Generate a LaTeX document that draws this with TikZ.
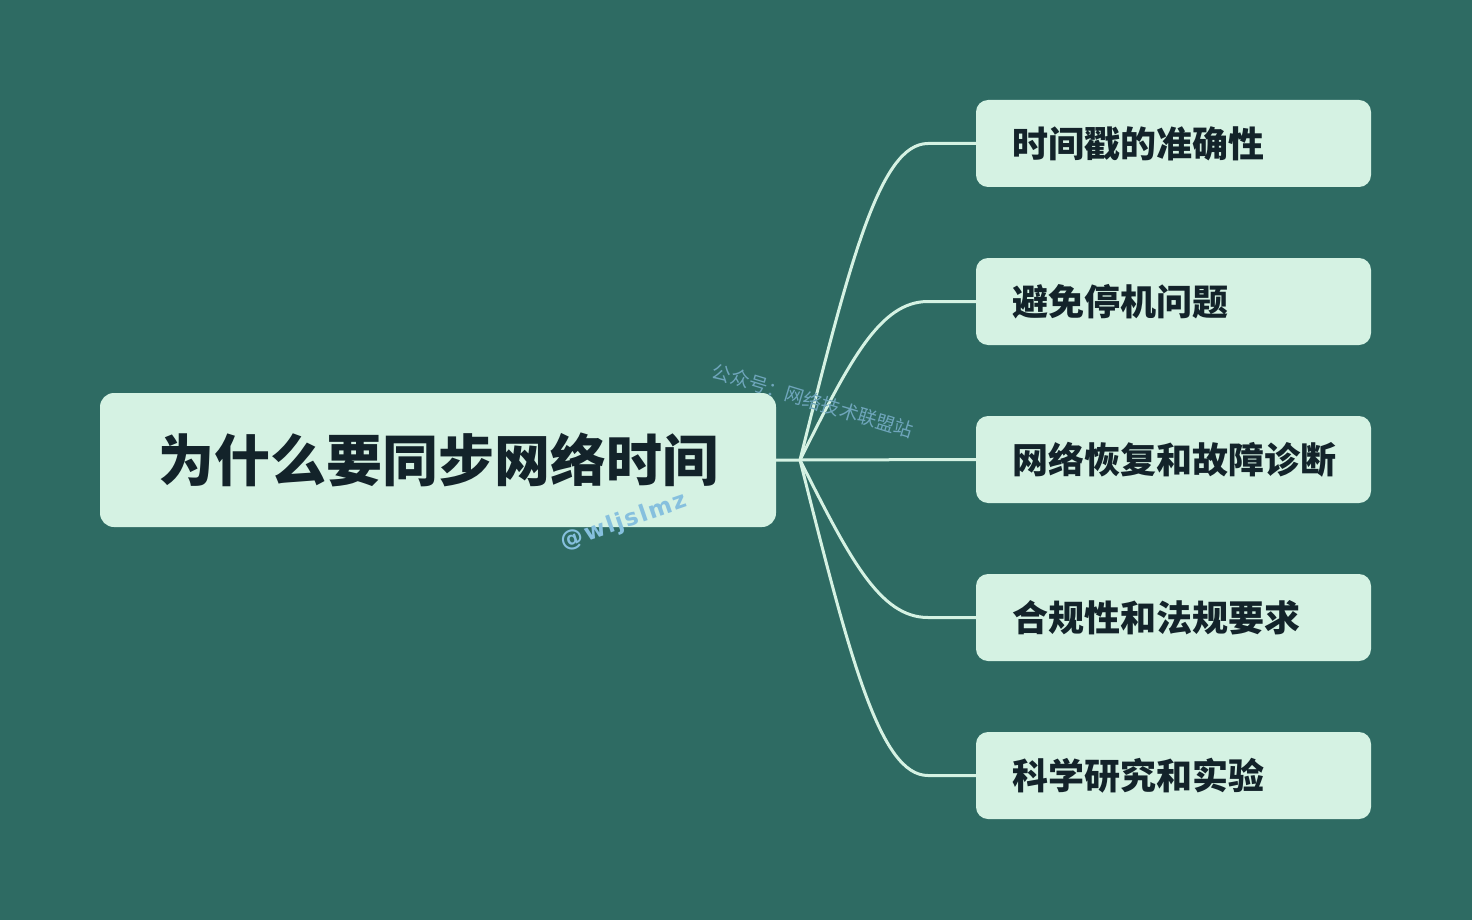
\documentclass[tikz,border=0pt]{standalone}
\usepackage{fontspec}
\usetikzlibrary{positioning,calc}
\newfontfamily\cjk{Noto Sans CJK SC}
\newfontfamily\marksans[LetterSpace=8]{DejaVu Sans}
\definecolor{board}{HTML}{2E6B63}
\definecolor{mint}{HTML}{D5F2E3}
\definecolor{ink}{HTML}{13232A}
\definecolor{stamp}{HTML}{6FA6BC}
\definecolor{stamplight}{HTML}{86C0DE}
\tikzset{
  every node/.style={text=ink},
  topic/.style={fill=mint, rounded corners=14pt, minimum width=676pt,
    minimum height=134pt, inner sep=0pt,
    font=\cjk\bfseries\fontsize{56}{64}\selectfont},
  branch/.style={fill=mint, rounded corners=12pt, minimum height=87pt,
    text width=323pt, inner xsep=36pt, inner ysep=0pt, align=left,
    font=\cjk\bfseries\fontsize{36}{42}\selectfont},
  link/.style={draw=mint, line width=3pt},
  watermark/.style={inner sep=0pt}
}

\begin{document}
\begin{tikzpicture}[x=1pt,y=-1pt]

% background fixes the page size
\fill[board] (0,0) rectangle (1472,920);

% central topic
\node[topic] (root) at (438,460) {为什么要同步网络时间};

% the five reasons, stacked on the right
\node[branch] (b1) at (1173.5,143.5) {时间戳的准确性};
\node[branch] (b2) at (1173.5,301.5) {避免停机问题};
\node[branch] (b3) at (1173.5,459.5) {网络恢复和故障诊断};
\node[branch] (b4) at (1173.5,617.5) {合规性和法规要求};
\node[branch] (b5) at (1173.5,775.5) {科学研究和实验};

% fork just right of the topic; every branch leaves from here
\coordinate (fork) at (800,460);
\coordinate (forkA) at (850,460);
\coordinate (forkB) at (880,460);
\coordinate (forkC) at (928,460);
\draw[link] (root.east) -- (fork) -- (b3.west);
\foreach \b in {b1,b2,b4,b5}{
  \coordinate (m) at ($(fork)!.63!(\b.west)$);
  \draw[link] (fork) .. controls (forkA |- m) and (forkB |- \b.west)
    .. (forkC |- \b.west) -- (\b.west);
}

% watermarks
\node[watermark, text=stamp, rotate=-17,
  font=\cjk\fontsize{19}{21}\selectfont]
  (wm1) at (813,401) {公众号：网络技术联盟站};
\node[watermark, text=stamplight, rotate=19,
  font=\marksans\bfseries\fontsize{23}{25}\selectfont]
  (wm2) at (624,522) {@wljslmz};

\end{tikzpicture}
\end{document}
